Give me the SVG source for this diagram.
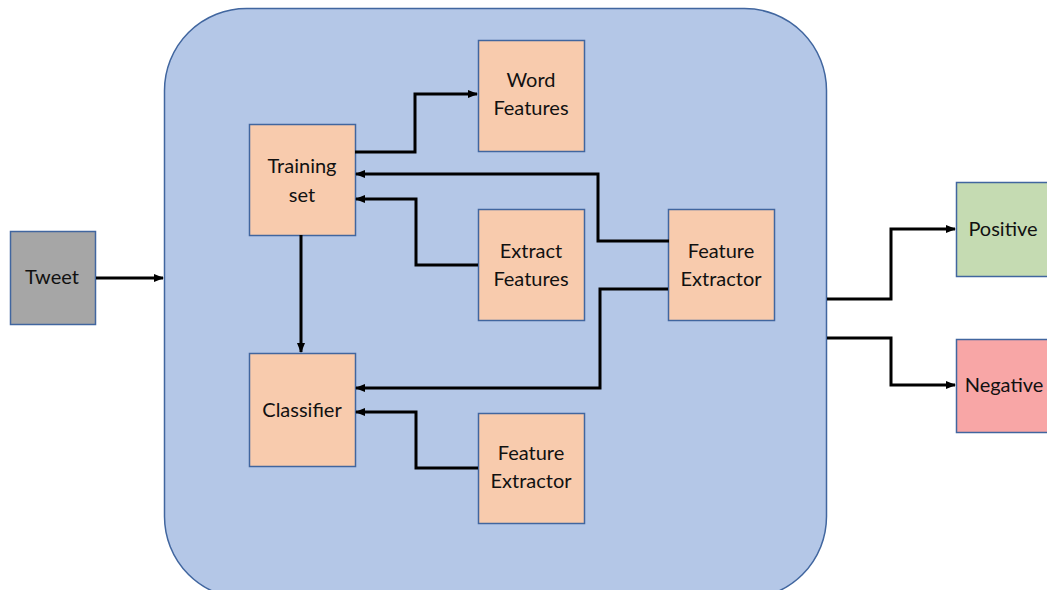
<svg xmlns="http://www.w3.org/2000/svg" width="1047" height="590" viewBox="0 0 1047 590">
<defs>
<marker id="ah" markerWidth="10" markerHeight="10" refX="9" refY="5" orient="auto" markerUnits="userSpaceOnUse">
<path d="M0,1 L10,5 L0,9 Z" fill="#000"/>
</marker>
<style>
.box{stroke:#41669f;stroke-width:1.5}
.n{fill:#f8cbad}
.t{font-family:Lato,"Liberation Sans",sans-serif;font-size:20px;fill:#111;text-anchor:middle}
.c{fill:none;stroke:#000;stroke-width:3;marker-end:url(#ah)}
</style>
</defs>
<rect width="1047" height="590" fill="#fff"/>
<g id="container"><rect class="box" x="164.5" y="8.5" width="662" height="590" rx="82" ry="82" fill="#b4c7e7"/></g>
<g id="tweet"><rect class="box" x="10.5" y="231.5" width="85" height="93" fill="#a6a6a6"/><text class="t" x="52" y="284">Tweet</text></g>
<g id="training"><rect class="box n" x="249.5" y="124.5" width="106" height="111"/><text class="t" x="302" y="173">Training</text><text class="t" x="302" y="202">set</text></g>
<g id="word"><rect class="box n" x="478.5" y="40.5" width="106" height="111"/><text class="t" x="531" y="87">Word</text><text class="t" x="531" y="115">Features</text></g>
<g id="extract"><rect class="box n" x="478.5" y="209.5" width="106" height="111"/><text class="t" x="531" y="258">Extract</text><text class="t" x="531" y="286">Features</text></g>
<g id="fe1"><rect class="box n" x="668.5" y="209.5" width="106" height="111"/><text class="t" x="721" y="258">Feature</text><text class="t" x="721" y="286">Extractor</text></g>
<g id="classifier"><rect class="box n" x="249.5" y="353.5" width="106" height="113"/><text class="t" x="302" y="417">Classifier</text></g>
<g id="fe2"><rect class="box n" x="478.5" y="413.5" width="106" height="110"/><text class="t" x="531" y="460">Feature</text><text class="t" x="531" y="488">Extractor</text></g>
<g id="positive"><rect class="box" x="956.5" y="182.5" width="100" height="94" fill="#c5dbb2"/><text class="t" x="1003" y="236">Positive</text></g>
<g id="negative"><rect class="box" x="956.5" y="339.5" width="100" height="93" fill="#f8a6a6"/><text class="t" x="1004" y="392">Negative</text></g>
<g id="connectors">
<path class="c" d="M96,278 H163"/>
<path class="c" d="M355,152 H415 V94 H477"/>
<path class="c" d="M669,241 H598 V174 H356"/>
<path class="c" d="M478,265 H416 V199 H356"/>
<path class="c" d="M301,235 V352"/>
<path class="c" d="M668,289 H600 V388 H356"/>
<path class="c" d="M478,468 H416 V412 H356"/>
<path class="c" d="M827,299 H891 V229 H955"/>
<path class="c" d="M827,338 H891 V385 H955"/>
</g>
</svg>
